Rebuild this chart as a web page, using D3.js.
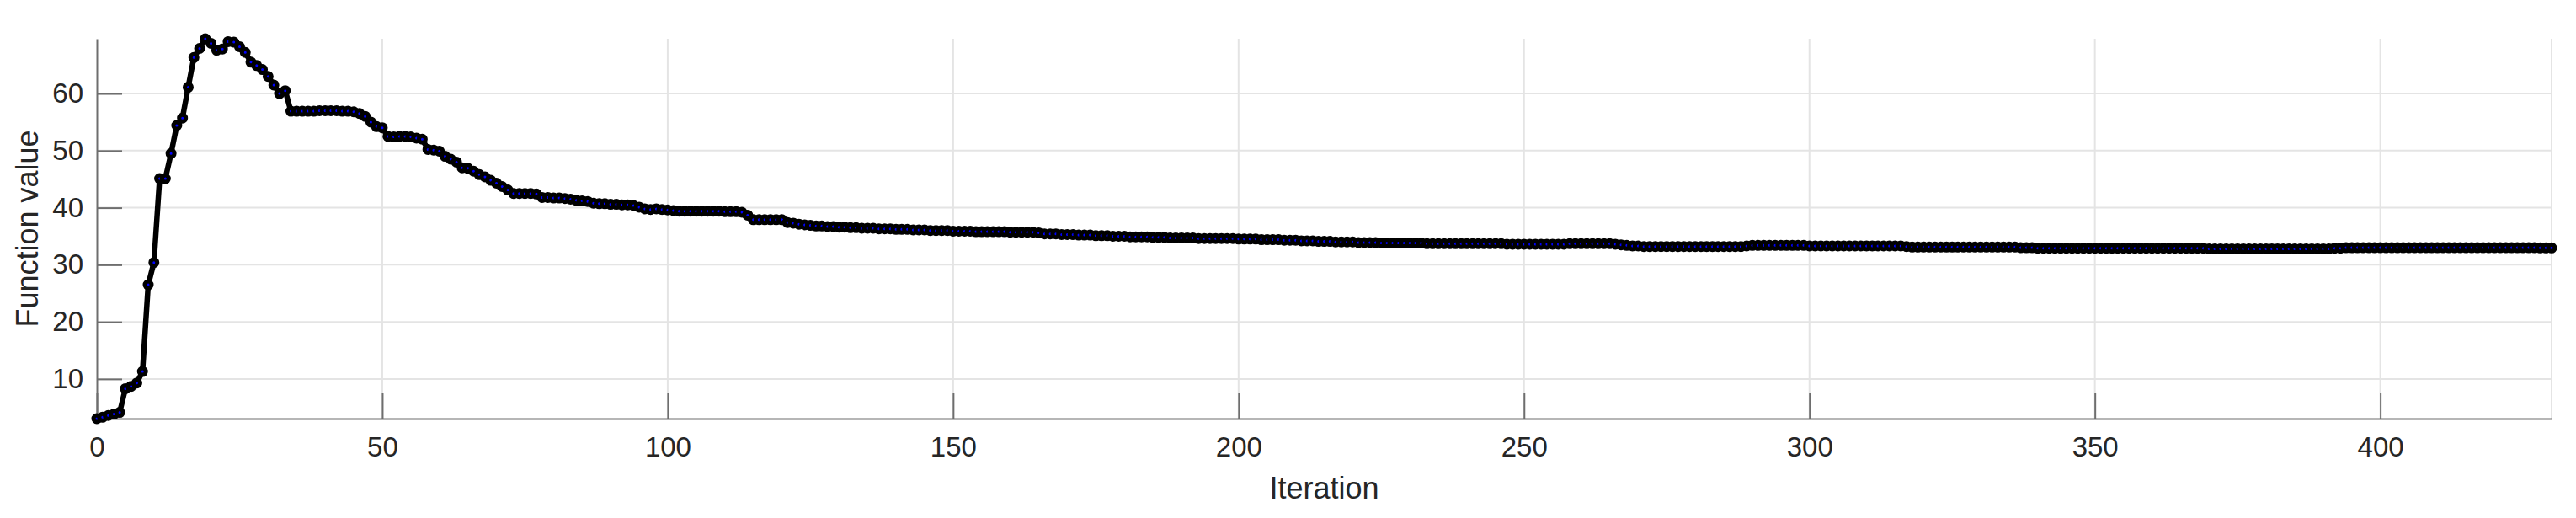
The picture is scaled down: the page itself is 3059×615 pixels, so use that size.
<html>
<script src="https://cdn.jsdelivr.net/npm/d3@7"></script>
<body style="margin:0; background:#fff">
<svg id="chart" width="3059" height="615"></svg>
<script>

// function value per iteration (0..430)
var fval = [
  3.05, 3.3, 3.6, 3.85, 4.14, 8.3, 8.7, 9.3, 11.3, 26.5,
  30.4, 45.1, 45.1, 49.5, 54.4, 55.7, 61.1, 66.3, 67.9, 69.6,
  68.8, 67.6, 67.8, 69.1, 69.0, 68.2, 67.2, 65.5, 64.9, 64.2,
  63.0, 61.5, 60.0, 60.5, 56.9, 56.9, 56.9, 56.9, 56.9, 57.0,
  57.0, 57.0, 57.0, 56.9, 56.9, 56.8, 56.5, 56.0, 55.0, 54.2,
  54.0, 52.5, 52.4, 52.5, 52.5, 52.4, 52.2, 52.0, 50.2, 50.1,
  49.9, 49.0, 48.5, 48.0, 47.0, 46.9, 46.4, 45.8, 45.4, 44.8,
  44.3, 43.7, 43.1, 42.5, 42.5, 42.5, 42.5, 42.4, 41.8, 41.8,
  41.7, 41.7, 41.6, 41.5, 41.3, 41.2, 41.1, 40.8, 40.7, 40.7,
  40.6, 40.6, 40.5, 40.5, 40.4, 40.1, 39.8, 39.7, 39.8, 39.7,
  39.6, 39.5, 39.4, 39.4, 39.4, 39.4, 39.4, 39.4, 39.4, 39.4,
  39.3, 39.3, 39.3, 39.2, 38.7, 37.9, 37.9, 37.9, 37.9, 37.9,
  37.9, 37.4, 37.3, 37.1, 37.0, 36.9, 36.8, 36.8, 36.7, 36.7,
  36.6, 36.6, 36.5, 36.5, 36.4, 36.4, 36.4, 36.3, 36.3, 36.3,
  36.2, 36.2, 36.2, 36.1, 36.1, 36.1, 36.0, 36.0, 36.0, 36.0,
  35.9, 35.9, 35.9, 35.9, 35.8, 35.8, 35.8, 35.8, 35.8, 35.8,
  35.7, 35.7, 35.7, 35.7, 35.7, 35.6, 35.4, 35.4, 35.4, 35.3,
  35.3, 35.3, 35.2, 35.2, 35.2, 35.1, 35.1, 35.1, 35.0, 35.0,
  35.0, 34.9, 34.9, 34.9, 34.9, 34.8, 34.8, 34.8, 34.7, 34.7,
  34.7, 34.7, 34.7, 34.6, 34.6, 34.6, 34.6, 34.6, 34.6, 34.6,
  34.5, 34.5, 34.5, 34.5, 34.4, 34.4, 34.4, 34.4, 34.3, 34.3,
  34.3, 34.2, 34.2, 34.2, 34.1, 34.1, 34.1, 34.0, 34.0, 34.0,
  34.0, 33.9, 33.9, 33.9, 33.9, 33.8, 33.8, 33.8, 33.8, 33.8,
  33.8, 33.8, 33.8, 33.7, 33.7, 33.7, 33.7, 33.7, 33.7, 33.7,
  33.7, 33.7, 33.7, 33.7, 33.7, 33.7, 33.7, 33.6, 33.6, 33.6,
  33.6, 33.6, 33.6, 33.6, 33.6, 33.6, 33.6, 33.6, 33.7, 33.7,
  33.7, 33.7, 33.7, 33.7, 33.7, 33.7, 33.6, 33.5, 33.4, 33.3,
  33.3, 33.2, 33.2, 33.2, 33.2, 33.2, 33.2, 33.2, 33.2, 33.2,
  33.2, 33.2, 33.2, 33.2, 33.2, 33.2, 33.2, 33.2, 33.2, 33.3,
  33.4, 33.4, 33.4, 33.4, 33.4, 33.4, 33.4, 33.4, 33.4, 33.4,
  33.3, 33.3, 33.3, 33.3, 33.3, 33.3, 33.3, 33.3, 33.3, 33.3,
  33.3, 33.3, 33.3, 33.3, 33.3, 33.3, 33.3, 33.2, 33.1, 33.1,
  33.1, 33.1, 33.1, 33.1, 33.1, 33.1, 33.1, 33.1, 33.1, 33.1,
  33.1, 33.1, 33.1, 33.1, 33.1, 33.1, 33.1, 33.0, 33.0, 33.0,
  32.9, 32.9, 32.9, 32.9, 32.9, 32.9, 32.9, 32.9, 32.9, 32.9,
  32.9, 32.9, 32.9, 32.9, 32.9, 32.9, 32.9, 32.9, 32.9, 32.9,
  32.9, 32.9, 32.9, 32.9, 32.9, 32.9, 32.9, 32.9, 32.9, 32.9,
  32.8, 32.8, 32.8, 32.8, 32.8, 32.8, 32.8, 32.8, 32.8, 32.8,
  32.8, 32.8, 32.8, 32.8, 32.8, 32.8, 32.8, 32.8, 32.8, 32.8,
  32.8, 32.8, 32.9, 32.9, 33.0, 33.0, 33.0, 33.0, 33.0, 33.0,
  33.0, 33.0, 33.0, 33.0, 33.0, 33.0, 33.0, 33.0, 33.0, 33.0,
  33.0, 33.0, 33.0, 33.0, 33.0, 33.0, 33.0, 33.0, 33.0, 33.0,
  33.0, 33.0, 33.0, 33.0, 33.0, 33.0, 33.0, 33.0, 32.95, 32.95,
  32.95
];
var iters = d3.range(fval.length);

var xTicks = [0, 50, 100, 150, 200, 250, 300, 350, 400];
var yTicks = [10, 20, 30, 40, 50, 60];

var plotL = 115, plotR = 3030, plotT = 46, plotB = 497;
var font = "'Liberation Sans', Arial, sans-serif";
var axisCol = "#6e6e6e", gridCol = "#e4e4e4", textCol = "#262626";

var x = d3.scaleLinear().domain([0, 430]).range([plotL, plotR]);
var y = d3.scaleLinear().domain(d3.extent(fval)).range([plotB, plotT]);

var svg = d3.select("#chart");

// grid
svg.append("g").selectAll("line").data(xTicks.slice(1)).enter().append("line")
    .attr("x1", d => x(d)).attr("x2", d => x(d))
    .attr("y1", plotT).attr("y2", plotB)
    .attr("stroke", gridCol).attr("stroke-width", 2);
svg.append("g").selectAll("line").data(yTicks).enter().append("line")
    .attr("x1", plotL).attr("x2", plotR)
    .attr("y1", d => y(d)).attr("y2", d => y(d))
    .attr("stroke", gridCol).attr("stroke-width", 2);
svg.append("line")
    .attr("x1", plotR).attr("x2", plotR).attr("y1", plotT).attr("y2", plotB)
    .attr("stroke", gridCol).attr("stroke-width", 2);

// axes, ticks pointing inward
var xAxis = svg.append("g")
    .attr("transform", "translate(0," + plotB + ")")
    .call(d3.axisBottom(x).tickValues(xTicks).tickSize(-30).tickSizeOuter(0).tickPadding(22));
var yAxis = svg.append("g")
    .attr("transform", "translate(" + plotL + ",0)")
    .call(d3.axisLeft(y).tickValues(yTicks).tickSize(-30).tickSizeOuter(0).tickPadding(16));

[xAxis, yAxis].forEach(function(a) {
    a.select(".domain").attr("stroke", axisCol).attr("stroke-width", 2);
    a.selectAll(".tick line").attr("stroke", axisCol).attr("stroke-width", 2);
    a.selectAll(".tick text").attr("fill", textCol)
        .style("font-family", font).style("font-size", "33px");
});

// the line and markers
var line = d3.line().x((d, i) => x(iters[i])).y(d => y(d));

svg.append("path")
    .datum(fval)
    .attr("d", line)
    .attr("fill", "none")
    .attr("stroke", "black")
    .attr("stroke-width", 6.5)
    .attr("stroke-linejoin", "round");

svg.append("g").selectAll("circle").data(fval).enter().append("circle")
    .attr("cx", (d, i) => x(iters[i]))
    .attr("cy", d => y(d))
    .attr("r", 4)
    .attr("fill", "#0000ff")
    .attr("stroke", "black")
    .attr("stroke-width", 5);

// labels
svg.append("text")
    .attr("x", (plotL + plotR) / 2)
    .attr("y", 592)
    .attr("text-anchor", "middle")
    .attr("fill", textCol)
    .style("font-family", font).style("font-size", "36px")
    .text("Iteration");

svg.append("text")
    .attr("transform", "translate(45," + ((plotT + plotB) / 2) + ") rotate(-90)")
    .attr("text-anchor", "middle")
    .attr("fill", textCol)
    .style("font-family", font).style("font-size", "36px")
    .text("Function value");

</script>
</body>
</html>
